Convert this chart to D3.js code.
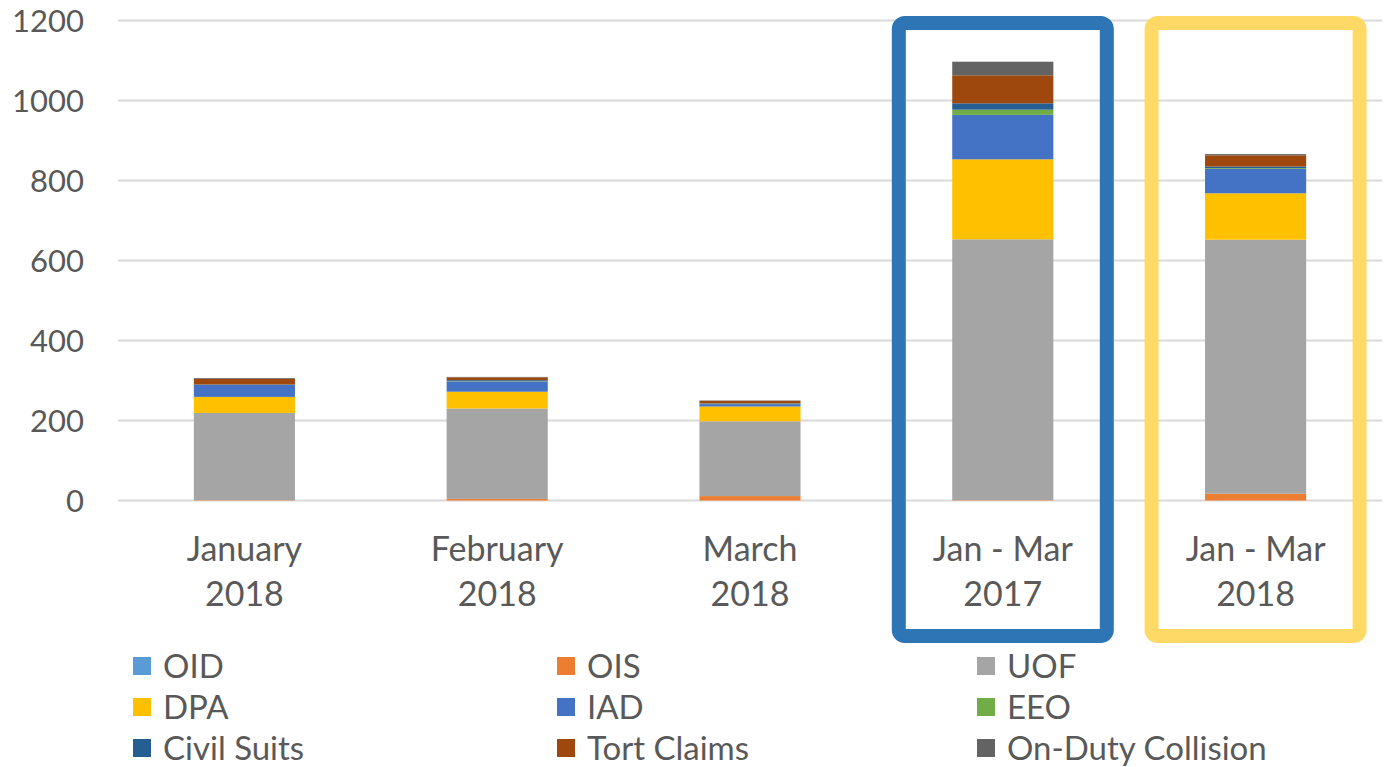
<!DOCTYPE html>
<html>
<head>
<meta charset="utf-8">
<script src="https://cdnjs.cloudflare.com/ajax/libs/d3/7.8.5/d3.min.js"></script>
<style>
  body { margin: 0; background: #fff; }
  svg { display: block; font-family: Lato, "Open Sans", sans-serif; }
</style>
</head>
<body>
<svg id="chart" width="1384" height="767"></svg>
<script>
// category labels (two lines each)
var categories = ["January 2018", "February 2018", "March 2018", "Jan - Mar 2017", "Jan - Mar 2018"];
var catLines = [["January", "2018"], ["February", "2018"], ["March", "2018"], ["Jan - Mar", "2017"], ["Jan - Mar", "2018"]];

var seriesNames = ["OID", "OIS", "UOF", "DPA", "IAD", "EEO", "Civil Suits", "Tort Claims", "On-Duty Collision"];
var seriesColors = ["#5B9BD5", "#ED7D31", "#A5A5A5", "#FFC000", "#4472C4", "#70AD47", "#255E91", "#9E480E", "#636363"];

// values per category
var oid = [0, 0, 0, 0, 0];
var ois = [1, 4, 11, 1, 17];
var uof = [218, 226, 187, 652, 635];
var dpa = [40, 42, 37, 200, 116];
var iad = [30, 26, 6, 111, 61];
var eeo = [0, 1, 1, 13, 2];
var civil = [1, 2, 1, 16, 4];
var tort = [14, 7, 6, 70, 28];
var collision = [2, 1, 1, 34, 3];

var yTicks = [0, 200, 400, 600, 800, 1000, 1200];

// which categories get a highlight box, and its colour
var highlight = [{cat: "Jan - Mar 2017", color: "#2E75B6"}, {cat: "Jan - Mar 2018", color: "#FFD966"}];

var seriesValues = [oid, ois, uof, dpa, iad, eeo, civil, tort, collision];
var data = categories.map(function(c, i) {
  var row = {cat: c};
  seriesNames.forEach(function(s, j) { row[s] = seriesValues[j][i]; });
  return row;
});

var svg = d3.select("#chart");
var textColor = "#595959";
var gridColor = "#D9D9D9";

var x = d3.scaleBand()
  .domain(categories)
  .range([118, 1382])
  .paddingInner(0.6)
  .paddingOuter(0.3);

var y = d3.scaleLinear()
  .domain([0, 1200])
  .range([500.5, 20.5]);

var z = d3.scaleOrdinal().domain(seriesNames).range(seriesColors);

//gridlines
svg.append("g")
  .selectAll("line")
  .data(yTicks)
  .enter().append("line")
  .attr("x1", 118)
  .attr("x2", 1382)
  .attr("y1", function(d) { return y(d); })
  .attr("y2", function(d) { return y(d); })
  .attr("stroke", gridColor)
  .attr("stroke-width", 2);

//y axis labels
var yAxis = svg.append("g")
  .attr("transform", "translate(84,0)")
  .call(d3.axisLeft(y).tickValues(yTicks).tickFormat(d3.format("d")).tickSize(0).tickPadding(0));
yAxis.select(".domain").remove();
yAxis.selectAll("text")
  .attr("fill", textColor)
  .attr("font-size", 31)
  .attr("font-family", "Lato, sans-serif")
  .attr("dy", "0.34em");

//stacked bars
var stack = d3.stack().keys(seriesNames)(data);

svg.append("g")
  .selectAll("g")
  .data(stack)
  .enter().append("g")
  .attr("fill", function(d) { return z(d.key); })
  .selectAll("rect")
  .data(function(d) { return d; })
  .enter().append("rect")
  .attr("x", function(d) { return x(d.data.cat); })
  .attr("width", x.bandwidth())
  .attr("y", function(d) { return y(d[1]); })
  .attr("height", function(d) { return y(d[0]) - y(d[1]); });

//category labels
var labels = svg.append("g")
  .selectAll("text")
  .data(categories)
  .enter().append("text")
  .attr("x", function(d) { return x(d) + x.bandwidth() / 2; })
  .attr("text-anchor", "middle")
  .attr("fill", textColor)
  .attr("font-size", 34);

labels.selectAll("tspan")
  .data(function(d, i) { return catLines[i]; })
  .enter().append("tspan")
  .attr("x", function() { return d3.select(this.parentNode).attr("x"); })
  .attr("y", function(d, i) { return 561 + i * 45; })
  .text(function(d) { return d; });

//highlight boxes
svg.append("g")
  .selectAll("rect")
  .data(highlight)
  .enter().append("rect")
  .attr("x", function(d) { return x(d.cat) + x.bandwidth() / 2 - 104; })
  .attr("y", 23)
  .attr("width", 208)
  .attr("height", 613)
  .attr("rx", 6)
  .attr("fill", "none")
  .attr("stroke", function(d) { return d.color; })
  .attr("stroke-width", 14);

//legend, 3 columns
var legendX = [133, 557, 977];
var legend = svg.append("g")
  .selectAll("g")
  .data(seriesNames)
  .enter().append("g")
  .attr("transform", function(d, i) { return "translate(" + legendX[i % 3] + "," + (666 + Math.floor(i / 3) * 41) + ")"; });

legend.append("rect")
  .attr("x", 0)
  .attr("y", -9)
  .attr("width", 18)
  .attr("height", 18)
  .attr("fill", z);

legend.append("text")
  .attr("x", 30)
  .attr("y", 0)
  .attr("dy", "0.36em")
  .attr("fill", textColor)
  .attr("font-size", 33)
  .text(function(d) { return d; });
</script>
</body>
</html>
